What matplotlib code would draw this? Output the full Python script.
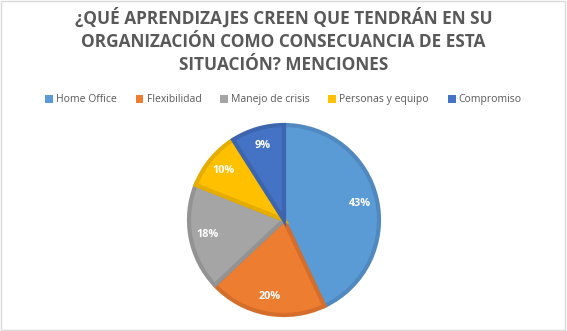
import matplotlib.pyplot as plt
from matplotlib.patches import Patch

labels = ["Home Office", "Flexibilidad", "Manejo de crisis", "Personas y equipo", "Compromiso"]
values = [43, 20, 18, 10, 9]
colors = ["#5B9BD5", "#ED7D31", "#A5A5A5", "#FFC000", "#4472C4"]
edges = ["#4F89BF", "#D46E2A", "#939393", "#E5AD00", "#3C65AE"]

title = "¿QUÉ APRENDIZAJES CREEN QUE TENDRÁN EN SU\nORGANIZACIÓN COMO CONSECUANCIA DE ESTA\nSITUACIÓN? MENCIONES"

plt.rcParams["font.family"] = ["Open Sans", "DejaVu Sans"]

fig = plt.figure(figsize=(5.67, 3.31), dpi=100)
fig.patch.set_facecolor("white")

# thin grey frame round the chart area
fig.patches.append(plt.Rectangle((0.002, 0.003), 0.995, 0.993, transform=fig.transFigure,
                                 fill=False, edgecolor="#D9D9D9", linewidth=1))

fig.text(0.5, 0.978, title, ha="center", va="top", fontsize=12.4, fontweight="bold",
         color="#595959", linespacing=1.36)

ax = fig.add_axes([189 / 567, 16 / 331, 190 / 567, 190 / 331])
wedges, texts, autotexts = ax.pie(values, colors=colors, startangle=90, counterclock=False,
                                  autopct="%1.0f%%", pctdistance=0.82,
                                  wedgeprops=dict(linewidth=3, joinstyle="miter"),
                                  textprops=dict(color="white", fontsize=7.8, fontweight="bold"))
for w, ec in zip(wedges, edges):
    w.set_edgecolor(ec)
ax.set_xlim(-1, 1)
ax.set_ylim(-1, 1)
ax.set_aspect("equal")
ax.axis("off")

handles = [Patch(facecolor=c, edgecolor="none") for c in colors]
fig.legend(handles, labels, loc="center", bbox_to_anchor=(0.5, 1 - 100 / 331), ncol=5,
           frameon=False, fontsize=7.5, labelcolor="#595959", handlelength=0.75,
           handleheight=0.75, handletextpad=0.3, columnspacing=1.8)

fig.savefig("out.png", dpi=100)
